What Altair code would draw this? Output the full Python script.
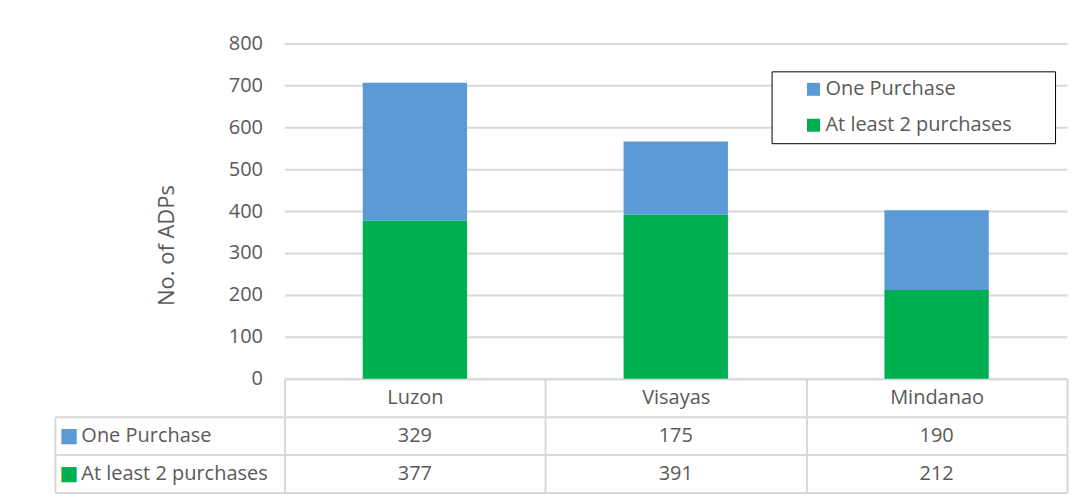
import altair as alt
import pandas as pd

# ---- data ----
regions = ["Luzon", "Visayas", "Mindanao"]
series_names = ["One Purchase", "At least 2 purchases"]
one_purchase = [329, 175, 190]
at_least_two = [377, 391, 212]
series_colors = ["#5B9BD5", "#00B050"]
y_ticks = [0, 100, 200, 300, 400, 500, 600, 700, 800]

rows = []
for i, r in enumerate(regions):
    rows.append({"region": r, "series": series_names[0], "value": one_purchase[i]})
    rows.append({"region": r, "series": series_names[1], "value": at_least_two[i]})
df = pd.DataFrame(rows)

TEXT = "#595959"
GRID = "#D9D9D9"
FS = 20

band0 = alt.Scale(type="band", paddingInner=0, paddingOuter=0)

color = alt.Color(
    "series:N",
    scale=alt.Scale(domain=series_names, range=series_colors),
    legend=alt.Legend(
        title=" ", titleOrient="right", titleFontSize=1, titlePadding=35,
        orient="none", legendX=488, legendY=28, direction="vertical",
        symbolType="square", symbolSize=169, symbolStrokeWidth=0,
        labelFontSize=FS, labelColor=TEXT, labelLimit=0,
        strokeColor="black", fillColor="white", padding=8, rowPadding=16,
        symbolOffset=24, labelOffset=2,
    ),
)

bars = alt.Chart(df).transform_calculate(
    stack_order="indexof(['At least 2 purchases', 'One Purchase'], datum.series)"
).mark_bar(width=alt.RelativeBandSize(0.4)).encode(
    x=alt.X(
        "region:N", sort=regions, scale=band0,
        axis=alt.Axis(
            title=None, labelAngle=0, tickBand="extent", ticks=True, tickSize=37,
            tickColor=GRID, tickWidth=2, domain=True, domainColor=GRID, domainWidth=2,
            labelPadding=-28, labelFontSize=FS, labelColor=TEXT, grid=False,
        ),
    ),
    y=alt.Y(
        "value:Q", stack="zero", scale=alt.Scale(domain=[0, 800], nice=False),
        axis=alt.Axis(
            title="No. of ADPs", values=y_ticks, domain=False, ticks=False,
            grid=True, gridColor=GRID, gridWidth=2,
            labelPadding=22, labelFontSize=FS, labelColor=TEXT,
            titleFontSize=22, titleFontWeight="normal", titleColor=TEXT,
            titlePadding=50, titleY=202,
        ),
    ),
    color=color,
    order=alt.Order("stack_order:Q", sort="ascending"),
).properties(width=784, height=336)

x_table = alt.X(
    "region:N", sort=regions, scale=band0,
    axis=alt.Axis(title=None, labels=False, ticks=False, domain=False, grid=True,
                  gridColor=GRID, gridWidth=2, tickBand="extent"),
)

axis_b = alt.Axis(
    title=None, orient="left", offset=230, domain=True, domainColor=GRID, domainWidth=2,
    ticks=False, grid=False, labelExpr="'■'", labelAlign="left", labelPadding=-4,
    labelFont="DejaVu Sans", labelFontSize=20,
    labelColor={"condition": {"test": "datum.value === 'One Purchase'", "value": series_colors[0]},
                "value": series_colors[1]},
)

axis_a = alt.Axis(
    title=None, orient="left", domain=False, ticks=True, tickSize=230, tickColor=GRID,
    tickWidth=2, tickBand="extent", grid=True, gridColor=GRID, gridWidth=2,
    labelAlign="left", labelPadding=-26, labelFontSize=FS, labelColor=TEXT, labelLimit=0,
)

cells = alt.Chart(df).mark_rect(opacity=0).encode(
    x=x_table,
    y=alt.Y("series:N", sort=series_names, scale=band0, axis=axis_b),
)

values = alt.Chart(df).mark_text(fontSize=FS, color=TEXT).encode(
    x=x_table,
    y=alt.Y("series:N", sort=series_names, scale=band0, axis=axis_a),
    text="value:Q",
)

table = alt.layer(cells, values).resolve_axis(y="independent").properties(width=784, height=76)

chart = alt.vconcat(bars, table, spacing=-11).resolve_legend(color="independent").properties(
    padding={"left": 46, "top": 25, "right": 5, "bottom": 0}
).configure(font="Open Sans").configure_view(stroke=None)

chart.save("out.html", embed_options={"renderer": "svg", "actions": False})
